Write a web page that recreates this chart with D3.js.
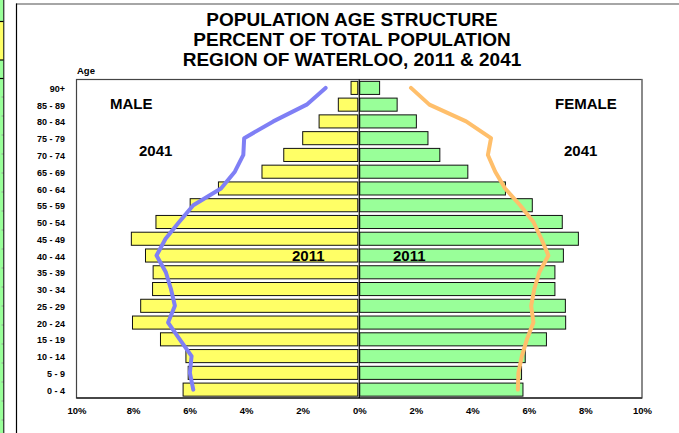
<!DOCTYPE html>
<html>
<head>
<meta charset="utf-8">
<script src="https://cdn.jsdelivr.net/npm/d3@7"></script>
<style>
  html, body { margin: 0; padding: 0; background: #fff; }
  svg { display: block; font-family: "Liberation Sans", Arial, sans-serif; }
</style>
</head>
<body>
<svg id="chart" width="679" height="433"></svg>
<script>
// ---- data (top to bottom) ----
const ageGroups = ["90+", "85 - 89", "80 - 84", "75 - 79", "70 - 74", "65 - 69", "60 - 64", "55 - 59", "50 - 54", "45 - 49",
  "40 - 44", "35 - 39", "30 - 34", "25 - 29", "20 - 24", "15 - 19", "10 - 14", "5 - 9", "0 - 4"];
const male2011 = [0.29, 0.74, 1.42, 2.0, 2.67, 3.44, 4.98, 5.98, 7.19, 8.06, 7.56, 7.29, 7.31, 7.73, 8.02, 7.03, 6.13, 6.05, 6.23];
const female2011 = [0.72, 1.34, 2.02, 2.43, 2.85, 3.84, 5.17, 6.12, 7.18, 7.75, 7.22, 6.92, 6.92, 7.29, 7.3, 6.62, 5.87, 5.74, 5.79];
const male2041 = [1.19, 1.86, 3.04, 4.07, 4.1, 4.4, 4.89, 5.87, 6.37, 6.85, 7.17, 6.84, 6.66, 6.52, 6.76, 6.35, 5.93, 5.99, 5.87];
const female2041 = [1.83, 2.48, 3.78, 4.66, 4.55, 4.81, 5.16, 5.69, 6.16, 6.44, 6.69, 6.37, 6.19, 6.08, 6.16, 5.93, 5.75, 5.63, 5.61];
const xTicks = [-10, -8, -6, -4, -2, 0, 2, 4, 6, 8, 10];
const xTickLabels = ["10%", "8%", "6%", "4%", "2%", "0%", "2%", "4%", "6%", "8%", "10%"];
const titleLines = ["POPULATION AGE STRUCTURE", "PERCENT OF TOTAL POPULATION", "REGION OF WATERLOO, 2011 & 2041"];

const svg = d3.select("#chart");

// ---- spreadsheet fragments at left edge ----
svg.append("rect").attr("x", 0).attr("y", 0).attr("width", 3.5).attr("height", 433).attr("fill", "#99ff99");
svg.append("rect").attr("x", 0).attr("y", 22).attr("width", 3.5).attr("height", 38).attr("fill", "#ffff66");
[21.5, 60, 78.5].forEach(y => svg.append("line").attr("x1", 0).attr("x2", 3.5).attr("y1", y).attr("y2", y)
  .attr("stroke", "#000").attr("stroke-width", 1.2));
d3.range(97, 433, 19).forEach(y => svg.append("line").attr("x1", 1.5).attr("x2", 3.5).attr("y1", y).attr("y2", y)
  .attr("stroke", "#999").attr("stroke-width", 1));
svg.append("line").attr("x1", 3.8).attr("x2", 3.8).attr("y1", 0).attr("y2", 433).attr("stroke", "#000").attr("stroke-width", 1);

// ---- chart frame ----
svg.append("line").attr("x1", 16).attr("x2", 679).attr("y1", 4).attr("y2", 4).attr("stroke", "#888").attr("stroke-width", 1.5);
svg.append("line").attr("x1", 16.5).attr("x2", 16.5).attr("y1", 3.5).attr("y2", 433).attr("stroke", "#000").attr("stroke-width", 1.2);

// ---- title ----
svg.append("g").selectAll("text").data(titleLines).join("text")
  .attr("x", 352).attr("y", (d, i) => 25.5 + i * 20)
  .attr("text-anchor", "middle").attr("font-weight", "bold").attr("font-size", 19)
  .attr("fill", "#000").text(d => d);

// ---- scales ----
const plot = { left: 76.5, right: 642, top: 79.5, bottom: 398 };
const x = d3.scaleLinear().domain([-10, 10]).range([plot.left, plot.right]);
const y = d3.scaleBand().domain(ageGroups).range([plot.top, plot.bottom]).paddingInner(0.22).paddingOuter(0.11);
const yc = d => y(d) + y.bandwidth() / 2;

// plot frame
svg.append("rect").attr("x", plot.left).attr("y", plot.top)
  .attr("width", plot.right - plot.left).attr("height", plot.bottom - plot.top)
  .attr("fill", "#fff").attr("stroke", "#444").attr("stroke-width", 1.2);
svg.append("line").attr("x1", plot.right).attr("x2", plot.right).attr("y1", plot.top).attr("y2", plot.bottom)
  .attr("stroke", "#888").attr("stroke-width", 1.5);
svg.append("line").attr("x1", plot.left).attr("x2", plot.right).attr("y1", plot.bottom).attr("y2", plot.bottom)
  .attr("stroke", "#000").attr("stroke-width", 1.2);

// ---- bars ----
svg.append("g").selectAll("rect").data(ageGroups).join("rect")
  .attr("x", (d, i) => x(-male2011[i]))
  .attr("y", d => y(d))
  .attr("width", (d, i) => x(0) - 1.5 - x(-male2011[i]))
  .attr("height", y.bandwidth())
  .attr("fill", "#ffff66").attr("stroke", "#111").attr("stroke-width", 1);
svg.append("g").selectAll("rect").data(ageGroups).join("rect")
  .attr("x", x(0) + 0.5)
  .attr("y", d => y(d))
  .attr("width", (d, i) => x(female2011[i]) - x(0) - 0.5)
  .attr("height", y.bandwidth())
  .attr("fill", "#99ff99").attr("stroke", "#111").attr("stroke-width", 1);

// centre axis
svg.append("line").attr("x1", x(0)).attr("x2", x(0)).attr("y1", plot.top).attr("y2", plot.bottom)
  .attr("stroke", "#000").attr("stroke-width", 1.2);

// ---- 2041 lines ----
const maleLine = d3.line().x(d => x(-d[1])).y(d => yc(d[0])).curve(d3.curveLinear);
const femaleLine = d3.line().x(d => x(d[1])).y(d => yc(d[0])).curve(d3.curveLinear);
svg.append("path").datum(ageGroups.map((a, i) => [a, male2041[i]]))
  .attr("d", maleLine).attr("fill", "none").attr("stroke", "#7f7ff5").attr("stroke-width", 4)
  .attr("stroke-linejoin", "round").attr("stroke-linecap", "round");
svg.append("path").datum(ageGroups.map((a, i) => [a, female2041[i]]))
  .attr("d", femaleLine).attr("fill", "none").attr("stroke", "#ffbf6b").attr("stroke-width", 4)
  .attr("stroke-linejoin", "round").attr("stroke-linecap", "round");

// ---- y axis labels ----
const yAxis = d3.axisLeft(y).tickSize(0).tickPadding(0);
const gy = svg.append("g").attr("transform", `translate(${65},0)`).call(yAxis);
gy.select(".domain").remove();
gy.selectAll("text").attr("font-family", "Liberation Sans, Arial, sans-serif")
  .attr("font-weight", "bold").attr("font-size", 9).attr("fill", "#000").attr("dy", "0.45em");

svg.append("text").attr("x", 77).attr("y", 74).attr("font-weight", "bold").attr("font-size", 9.5).text("Age");

// ---- x axis labels ----
const xAxis = d3.axisBottom(x).tickValues(xTicks).tickSize(0).tickPadding(0)
  .tickFormat((d, i) => xTickLabels[i]);
const gx = svg.append("g").attr("transform", `translate(0,${407.5})`).call(xAxis);
gx.select(".domain").remove();
gx.selectAll("text").attr("font-family", "Liberation Sans, Arial, sans-serif")
  .attr("font-weight", "bold").attr("font-size", 9.5).attr("fill", "#000").attr("dy", "0.71em");

// ---- annotations ----
const notes = [
  { t: "MALE", x: 110, y: 109.3 },
  { t: "2041", x: 139, y: 155.7 },
  { t: "FEMALE", x: 555, y: 109.3 },
  { t: "2041", x: 564, y: 155.7 },
  { t: "2011", x: 292, y: 261 },
  { t: "2011", x: 393, y: 261 }
];
svg.append("g").selectAll("text").data(notes).join("text")
  .attr("x", d => d.x).attr("y", d => d.y)
  .attr("font-weight", "bold").attr("font-size", 15).attr("fill", "#000").text(d => d.t);
</script>
</body>
</html>
